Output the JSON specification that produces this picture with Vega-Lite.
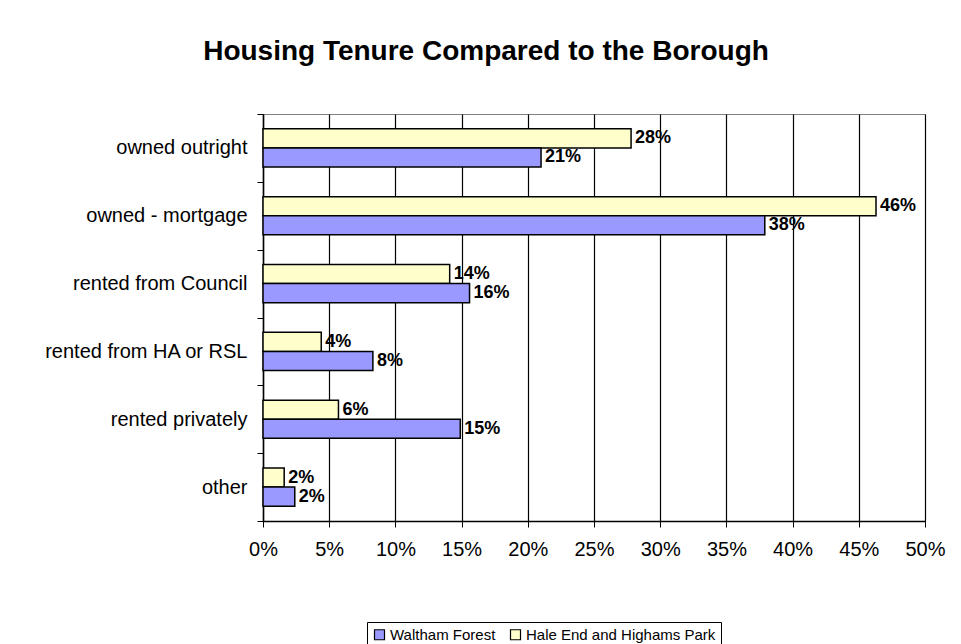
{
  "$schema": "https://vega.github.io/schema/vega-lite/v6.json",
  "width": 662,
  "height": 407,
  "autosize": {"type": "none"},
  "padding": {"left": 263, "top": 114, "right": 36, "bottom": 123},
  "background": "white",
  "title": {
    "text": "Housing Tenure Compared to the Borough",
    "font": "Liberation Sans",
    "fontSize": 28,
    "fontWeight": "bold",
    "color": "black",
    "anchor": "middle",
    "dx": -108,
    "offset": 38
  },
  "config": {
    "view": {"stroke": "#808080", "strokeWidth": 1},
    "axis": {"labelFont": "Liberation Sans", "labelColor": "black", "domainColor": "black", "tickColor": "black"}
  },
  "data": {
    "values": [
      {"category": "owned outright", "series": "Hale End and Highams Park", "value": 0.278},
      {"category": "owned outright", "series": "Waltham Forest", "value": 0.210},
      {"category": "owned - mortgage", "series": "Hale End and Highams Park", "value": 0.463},
      {"category": "owned - mortgage", "series": "Waltham Forest", "value": 0.379},
      {"category": "rented from Council", "series": "Hale End and Highams Park", "value": 0.141},
      {"category": "rented from Council", "series": "Waltham Forest", "value": 0.156},
      {"category": "rented from HA or RSL", "series": "Hale End and Highams Park", "value": 0.044},
      {"category": "rented from HA or RSL", "series": "Waltham Forest", "value": 0.083},
      {"category": "rented privately", "series": "Hale End and Highams Park", "value": 0.057},
      {"category": "rented privately", "series": "Waltham Forest", "value": 0.149},
      {"category": "other", "series": "Hale End and Highams Park", "value": 0.016},
      {"category": "other", "series": "Waltham Forest", "value": 0.024}
    ]
  },
  "encoding": {
    "y": {
      "field": "category",
      "type": "nominal",
      "sort": ["owned outright", "owned - mortgage", "rented from Council", "rented from HA or RSL", "rented privately", "other"],
      "scale": {"paddingInner": 0, "paddingOuter": 0},
      "axis": {
        "title": null,
        "tickBand": "extent",
        "tickSize": 6,
        "labelPadding": 10,
        "labelFontSize": 20,
        "labelLimit": 0,
        "domainWidth": 1.5,
        "grid": false
      }
    },
    "yOffset": {
      "field": "series",
      "sort": ["Hale End and Highams Park", "Waltham Forest"],
      "scale": {"paddingInner": 0, "paddingOuter": 0.78}
    },
    "x": {
      "field": "value",
      "type": "quantitative",
      "scale": {"domain": [0, 0.5], "nice": false},
      "axis": {
        "title": null,
        "values": [0, 0.05, 0.1, 0.15, 0.2, 0.25, 0.3, 0.35, 0.4, 0.45, 0.5],
        "format": ".0%",
        "grid": true,
        "gridColor": "black",
        "gridWidth": 1.2,
        "gridOpacity": 1,
        "tickSize": 6,
        "labelFontSize": 20,
        "labelPadding": 12,
        "labelFlush": false,
        "domainWidth": 1.5
      }
    }
  },
  "layer": [
    {
      "mark": {"type": "bar", "stroke": "black", "strokeWidth": 1.5},
      "encoding": {
        "color": {
          "field": "series",
          "type": "nominal",
          "scale": {"domain": ["Waltham Forest", "Hale End and Highams Park"], "range": ["#9999FF", "#FFFFCC"]},
          "legend": {
            "title": null,
            "orient": "none",
            "legendX": 104,
            "legendY": 508,
            "direction": "horizontal",
            "strokeColor": "black",
            "fillColor": "white",
            "padding": 5,
            "symbolType": "square",
            "symbolSize": 100,
            "symbolStrokeColor": "black",
            "symbolStrokeWidth": 1.2,
            "symbolOpacity": 1,
            "labelFont": "Liberation Sans",
            "labelFontSize": 15,
            "labelLimit": 0,
            "labelColor": "black",
            "labelOffset": 3,
            "columnPadding": 12
          }
        }
      }
    },
    {
      "mark": {"type": "text", "align": "left", "baseline": "middle", "dx": 4, "font": "Liberation Sans", "fontWeight": "bold", "fontSize": 18, "color": "black"},
      "encoding": {
        "text": {"field": "value", "type": "quantitative", "format": ".0%"}
      }
    }
  ]
}
